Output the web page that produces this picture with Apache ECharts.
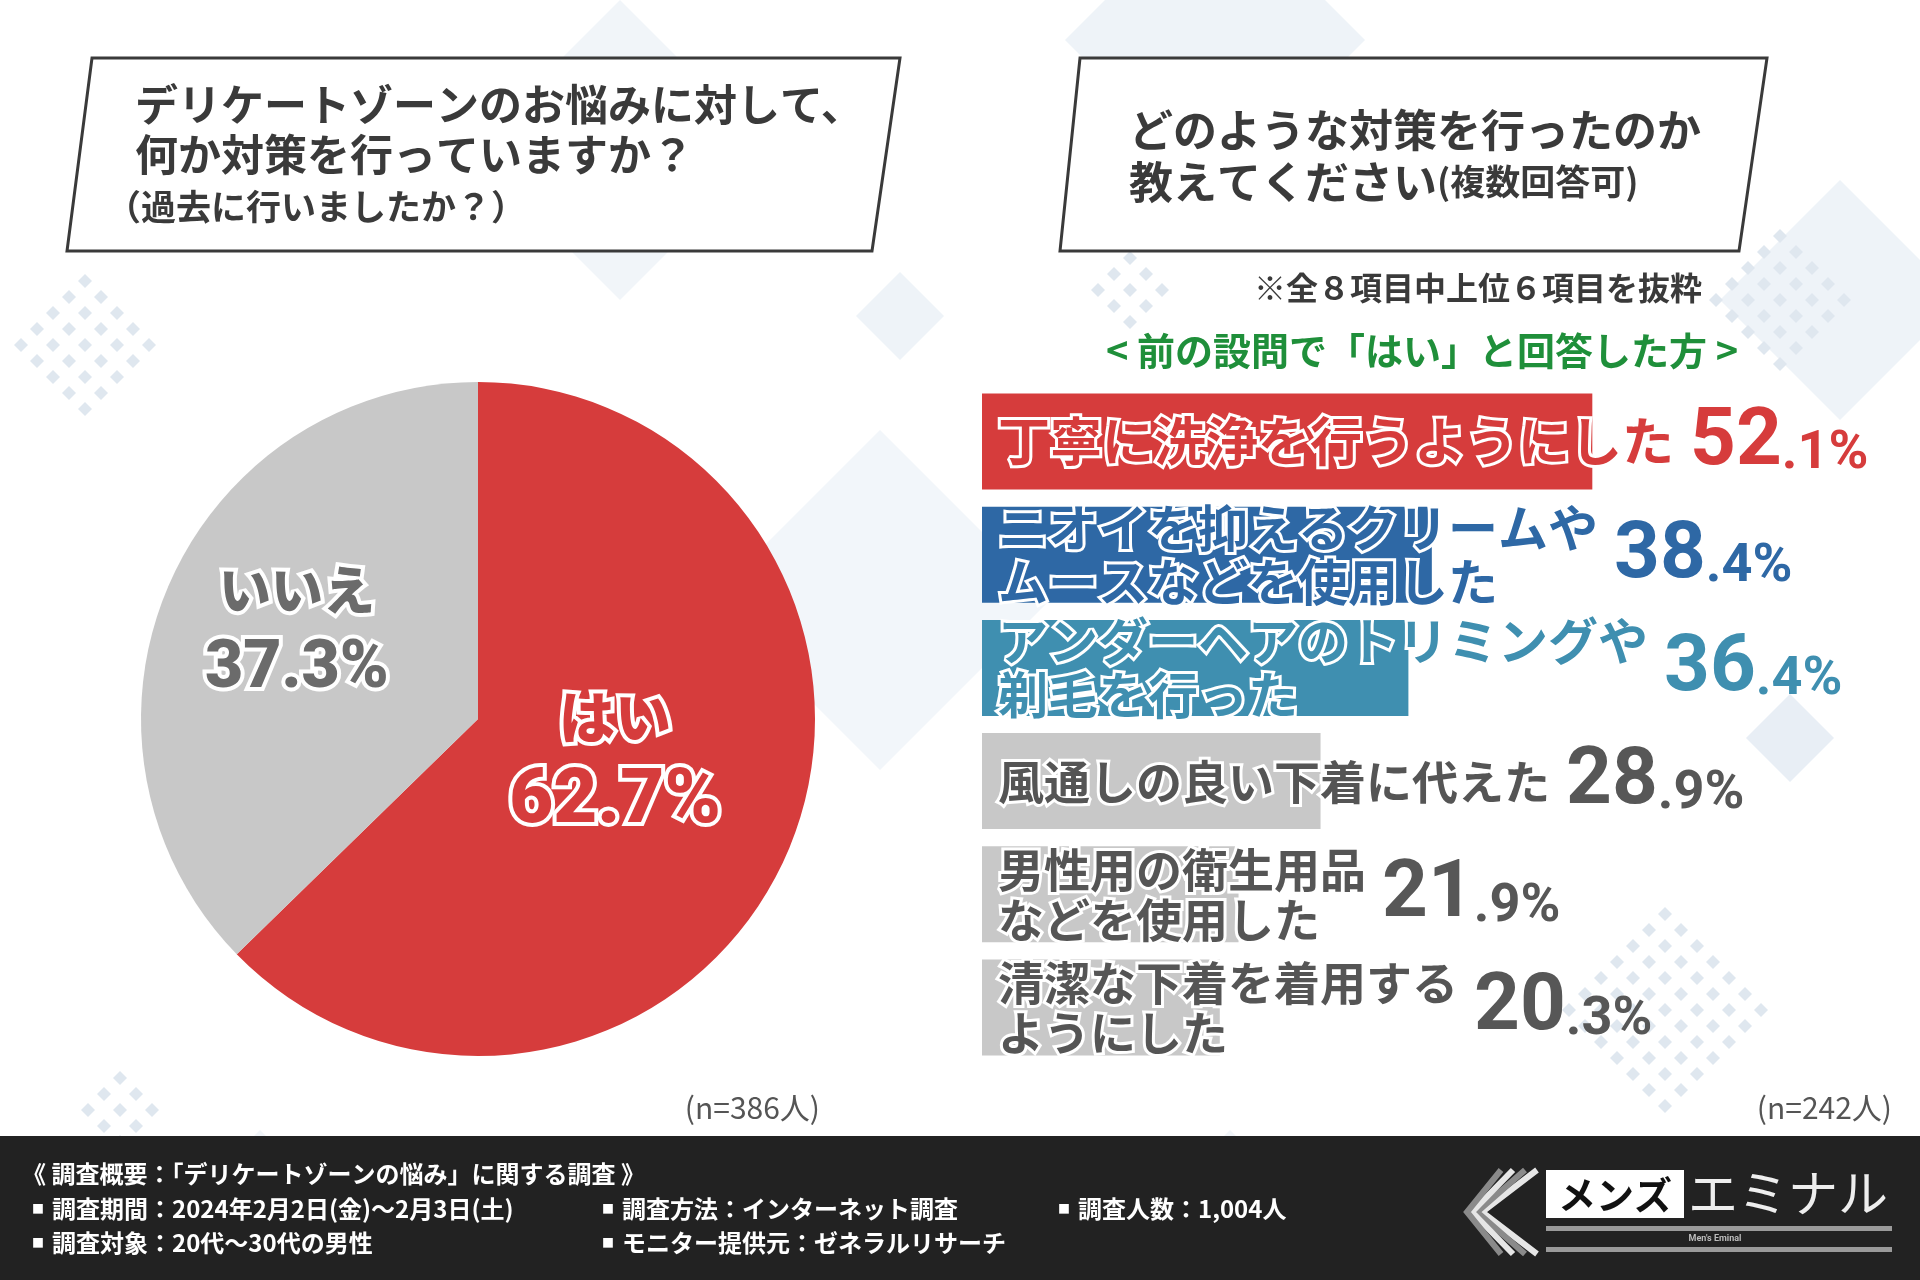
<!DOCTYPE html>
<html>
<head>
<meta charset="utf-8">
<script src="https://cdn.jsdelivr.net/npm/echarts@6/dist/echarts.min.js"></script>
<style>
html, body { margin: 0; padding: 0; background: #fff; }
#main { width: 1920px; height: 1280px; }
</style>
</head>
<body>
<div id="main"></div>
<script>
// 左：対策の有無（n=386）
var pieNames = ['はい', 'いいえ'];
var pieValues = [62.7, 37.3];

// 右：対策の内容（n=242, 上位6項目）
var barNames = [
	'丁寧に洗浄を行うようにした',
	'ニオイを抑えるクリームや\nムースなどを使用した',
	'アンダーヘアのトリミングや\n剃毛を行った',
	'風通しの良い下着に代えた',
	'男性用の衛生用品\nなどを使用した',
	'清潔な下着を着用する\nようにした'
];
var barValues = [52.1, 38.4, 36.4, 28.9, 21.9, 20.3];

var barColors = ['#d63c3c', '#2e68a5', '#3f8fb0', '#c8c8c8', '#c8c8c8', '#c8c8c8'];
var valueColors = ['#d63c3c', '#2e68a5', '#3f8fb0', '#575757', '#575757', '#575757'];
var nameSizes = [52, 50, 50, 46, 46, 46];

var JP = '"Noto Sans CJK JP", sans-serif';
var NUM = 'Roboto, "Noto Sans CJK JP", sans-serif';

var ctx = document.createElement('canvas').getContext('2d');
function textWidth (str, size) {
	ctx.font = 'bold ' + size + 'px ' + JP;
	return Math.max.apply(null, str.split('\n').map(function (s) {
		return ctx.measureText(s).width;
	}));
}

// 背景の菱形
var deco = [];
function diamond (cx, cy, r, color) {
	deco.push({
		type: 'polygon', z: -10, silent: true,
		shape: { points: [[cx, cy - r], [cx + r, cy], [cx, cy + r], [cx - r, cy]] },
		style: { fill: color }
	});
}
function dots (cx, cy, n, step) {
	for (var a = -n; a <= n; a++) {
		for (var b = -n; b <= n; b++) {
			if ((a + b) % 2 !== 0 || Math.abs(a) + Math.abs(b) > n) continue;
			diamond(cx + a * step, cy + b * step, 7, '#dfe7ef');
		}
	}
}
diamond(620, 150, 150, '#f1f5f9');
diamond(1215, 40, 150, '#eef3f8');
diamond(900, 316, 44, '#eef3f8');
diamond(1840, 300, 120, '#eef3f8');
diamond(1790, 738, 44, '#e8eef5');
diamond(880, 600, 170, '#f2f6fa');
diamond(260, 1280, 150, '#f1f5f9');
diamond(1230, 1280, 150, '#f1f5f9');
diamond(1795, 1280, 110, '#eef3f8');
dots(85, 345, 5, 16);
dots(1780, 300, 4, 16);
dots(1665, 1010, 6, 16);
dots(1130, 290, 3, 16);
dots(120, 1110, 2, 16);

function box (pts) {
	return {
		type: 'polygon', z: 5,
		shape: { points: pts },
		style: { fill: '#fff', stroke: '#3a3a3a', lineWidth: 3 }
	};
}
function txt (x, y, text, font, fill, align, rich) {
	return {
		type: 'text', z: 10, x: x, y: y,
		style: {
			text: text, font: font, fill: fill,
			textAlign: align || 'left', textVerticalAlign: 'middle',
			rich: rich
		}
	};
}

var footerFont = 'bold 24px ' + JP;
var footerRich = {
	s: { fontSize: 12, fontFamily: JP, color: '#fff', padding: [0, 8, 0, 0] },
	t: { fontSize: 24, fontFamily: JP, fontWeight: 'bold', color: '#fff' }
};
function bullet (x, y, s) {
	return txt(x, y, '{s|■}{t|' + s + '}', footerFont, '#fff', 'left', footerRich);
}

var logo = [];
for (var k = 0; k < 4; k++) {
	logo.push({
		type: 'polyline', z: 10,
		shape: { points: [[1537 - k * 12, 1170], [1482 - k * 5, 1212], [1537 - k * 12, 1254]] },
		style: { stroke: k % 2 ? '#8a8a8a' : '#e6e6e6', lineWidth: 6 }
	});
}
logo.push(
	{ type: 'rect', z: 10, shape: { x: 1546, y: 1170, width: 138, height: 48 }, style: { fill: '#fff' } },
	txt(1615, 1195, 'メンズ', 'bold 38px ' + JP, '#111', 'center'),
	txt(1788, 1193, 'エミナル', '50px ' + JP, '#eeeeee', 'center'),
	{ type: 'rect', z: 10, shape: { x: 1546, y: 1226, width: 346, height: 5 }, style: { fill: '#9a9a9a' } },
	{ type: 'rect', z: 10, shape: { x: 1546, y: 1247, width: 346, height: 5 }, style: { fill: '#9a9a9a' } },
	txt(1715, 1239, "Men's Eminal", 'bold 9px ' + NUM, '#bbb', 'center')
);

var graphics = deco.concat([
	box([[92, 58], [900, 58], [872, 251], [67, 251]]),
	txt(135, 105, 'デリケートゾーンのお悩みに対して、', 'bold 43px ' + JP, '#3a3a3a'),
	txt(135, 155, '何か対策を行っていますか？', 'bold 43px ' + JP, '#3a3a3a'),
	txt(106, 207, '（過去に行いましたか？）', 'bold 35px ' + JP, '#3a3a3a'),

	box([[1080, 58], [1767, 58], [1739, 251], [1060, 251]]),
	txt(1129, 130, 'どのような対策を行ったのか', 'bold 44px ' + JP, '#3a3a3a'),
	txt(1129, 182, '{a|教えてください}{b|(複数回答可)}', 'bold 44px ' + JP, '#3a3a3a', 'left', {
		a: { fontSize: 44, fontWeight: 'bold', fontFamily: JP, color: '#3a3a3a' },
		b: { fontSize: 35, fontWeight: 'bold', fontFamily: JP, color: '#3a3a3a' }
	}),

	txt(1702, 288, '※全８項目中上位６項目を抜粋', 'bold 32px ' + JP, '#3a3a3a', 'right'),
	txt(1422, 351, '< 前の設問で「はい」と回答した方 >', 'bold 38px ' + JP, '#1f8f3a', 'center'),

	txt(820, 1108, '(n=386人)', '30px ' + JP, '#555', 'right'),
	txt(1892, 1108, '(n=242人)', '30px ' + JP, '#555', 'right'),

	{ type: 'rect', z: 5, shape: { x: 0, y: 1136, width: 1920, height: 144 }, style: { fill: '#222222' } },
	txt(22, 1174, '《 調査概要：「デリケートゾーンの悩み」に関する調査 》', footerFont, '#fff'),
	bullet(32, 1209, '調査期間：2024年2月2日(金)～2月3日(土)'),
	bullet(602, 1209, '調査方法：インターネット調査'),
	bullet(1058, 1209, '調査人数：1,004人'),
	bullet(32, 1243, '調査対象：20代～30代の男性'),
	bullet(602, 1243, 'モニター提供元：ゼネラルリサーチ')
]).concat(logo);

var pieData = [
	{
		name: pieNames[0], value: pieValues[0],
		itemStyle: { color: '#d63c3c' },
		label: {
			color: '#d63c3c', offset: [-21, -19],
			rich: {
				n: { fontSize: 56, lineHeight: 72, fontWeight: 900, fontFamily: JP, color: '#d63c3c', textBorderColor: '#fff', textBorderWidth: 8 },
				v: { fontSize: 76, lineHeight: 100, fontWeight: 900, fontFamily: NUM, color: '#d63c3c', textBorderColor: '#fff', textBorderWidth: 8 }
			}
		}
	},
	{
		name: pieNames[1], value: pieValues[1],
		itemStyle: { color: '#c8c8c8' },
		label: {
			color: '#6b6b6b', offset: [-23, -14],
			rich: {
				n: { fontSize: 52, lineHeight: 64, fontWeight: 900, fontFamily: JP, color: '#6b6b6b', textBorderColor: '#fff', textBorderWidth: 8 },
				v: { fontSize: 66, lineHeight: 96, fontWeight: 900, fontFamily: NUM, color: '#6b6b6b', textBorderColor: '#fff', textBorderWidth: 8 }
			}
		}
	}
];

var nameData = barValues.map(function (v, i) {
	var big = i < 3;
	return {
		value: v,
		itemStyle: { color: barColors[i] },
		label: {
			color: big ? barColors[i] : '#555555',
			fontSize: nameSizes[i],
			lineHeight: big ? 54 : 50
		}
	};
});

var valueData = barValues.map(function (v, i) {
	var w = textWidth(barNames[i], nameSizes[i]);
	return {
		value: v,
		label: {
			offset: [w + 16, 0],
			rich: {
				a: { fontSize: 80, fontWeight: 'bold', fontFamily: NUM, color: valueColors[i], verticalAlign: 'bottom', lineHeight: 84 },
				b: { fontSize: 54, fontWeight: 'bold', fontFamily: NUM, color: valueColors[i], verticalAlign: 'bottom', lineHeight: 84, padding: [0, 0, 2, 0] }
			}
		}
	};
});

var chart = echarts.init(document.getElementById('main'));
var option = {
	backgroundColor: '#ffffff',
	animation: false,
	graphic: { elements: graphics },
	grid: { left: 982, top: 385, width: 820, height: 679 },
	xAxis: { type: 'value', min: 0, max: 70, show: false },
	yAxis: { type: 'category', data: barNames, inverse: true, show: false },
	series: [
		{
			type: 'pie',
			center: [478, 719],
			radius: 337,
			startAngle: 90,
			clockwise: true,
			silent: true,
			label: {
				show: true,
				position: 'inside',
				formatter: function (p) { return '{n|' + p.name + '}\n{v|' + p.value.toFixed(1) + '%}'; }
			},
			labelLine: { show: false },
			data: pieData
		},
		{
			type: 'bar',
			barWidth: 96,
			silent: true,
			label: {
				show: true,
				position: 'insideLeft',
				distance: 16,
				fontFamily: JP,
				fontWeight: 'bold',
				textBorderColor: '#ffffff',
				textBorderWidth: 6,
				formatter: function (p) { return p.name; }
			},
			data: nameData
		},
		{
			type: 'bar',
			barWidth: 96,
			barGap: '-100%',
			silent: true,
			itemStyle: { color: 'rgba(0,0,0,0)' },
			label: {
				show: true,
				position: 'insideLeft',
				distance: 16,
				formatter: function (p) {
					var s = p.value.toFixed(1).split('.');
					return '{a|' + s[0] + '}{b|.' + s[1] + '%}';
				}
			},
			data: valueData
		}
	]
};
chart.setOption(option);
</script>
</body>
</html>
